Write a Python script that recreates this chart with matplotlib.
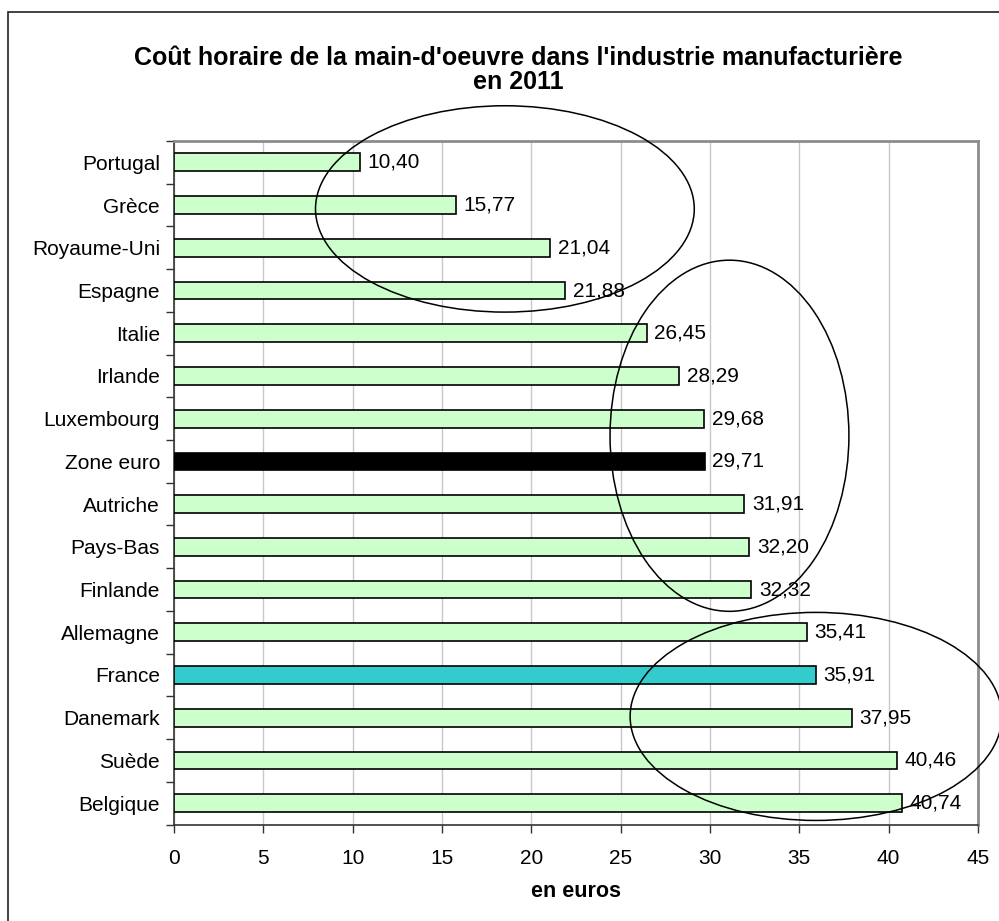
import matplotlib
matplotlib.use("Agg")
import matplotlib.pyplot as plt
from matplotlib.patches import Ellipse, Rectangle
from matplotlib.ticker import MultipleLocator, FixedLocator

plt.rcParams['font.family'] = ['Liberation Sans', 'DejaVu Sans']

countries = ["Portugal", "Grèce", "Royaume-Uni", "Espagne", "Italie", "Irlande",
             "Luxembourg", "Zone euro", "Autriche", "Pays-Bas", "Finlande",
             "Allemagne", "France", "Danemark", "Suède", "Belgique"]
values = [10.40, 15.77, 21.04, 21.88, 26.45, 28.29, 29.68, 29.71, 31.91,
          32.20, 32.32, 35.41, 35.91, 37.95, 40.46, 40.74]
labels = ["10,40", "15,77", "21,04", "21,88", "26,45", "28,29", "29,68", "29,71",
          "31,91", "32,20", "32,32", "35,41", "35,91", "37,95", "40,46", "40,74"]
title = "Coût horaire de la main-d'oeuvre dans l'industrie manufacturière\nen 2011"
xlabel = "en euros"

colors = []
for c in countries:
    if c == "Zone euro":
        colors.append("#000000")
    elif c == "France":
        colors.append("#33CCCC")
    else:
        colors.append("#CCFFCC")

W, H = 999, 921
fig = plt.figure(figsize=(W / 100, H / 100), dpi=100)
fig.patch.set_facecolor("white")

# outer frame
fig.add_artist(Rectangle((8 / W, -0.1), 1.2, 1 - 12 / H + 0.1,
                         transform=fig.transFigure, fill=False,
                         edgecolor="#222222", linewidth=1.2))

left, right, top, bottom = 174, 978, 141, 824.5
ax = fig.add_axes([left / W, 1 - bottom / H, (right - left) / W, (bottom - top) / H])

fs = 15
y = list(range(len(countries)))
ax.barh(y, values, height=0.415, color=colors, edgecolor="black", linewidth=1.2, zorder=3)
for yi, v, lab in zip(y, values, labels):
    ax.annotate(lab, (v, yi), xytext=(5.5, 0), textcoords="offset points",
                va="center", ha="left", fontsize=fs, color="black", zorder=4)

ax.set_xlim(0, 45)
ax.set_ylim(len(countries) - 0.5, -0.5)
ax.xaxis.set_major_locator(MultipleLocator(5))
ax.set_yticks(y)
ax.set_yticklabels(countries, fontsize=fs)
ax.tick_params(axis="y", length=0, pad=10)
ax.yaxis.set_minor_locator(FixedLocator([i - 0.5 for i in range(len(countries) + 1)]))
ax.tick_params(axis="y", which="minor", length=6, width=1, color="#333333", direction="out")
ax.tick_params(axis="x", length=6, width=1, color="#333333", direction="out", labelsize=fs, pad=12)
ax.grid(axis="x", color="#C8C8C8", linewidth=1, zorder=0)
ax.set_axisbelow(True)

for s in ["top", "right"]:
    ax.spines[s].set_color("#8C8C8C")
    ax.spines[s].set_linewidth(2)
for s in ["left", "bottom"]:
    ax.spines[s].set_color("#333333")
    ax.spines[s].set_linewidth(1.2)

ax.set_xlabel(xlabel, fontsize=15.5, fontweight="bold", labelpad=9)

fig.text(518 / W, 1 - 70 / H, title, ha="center", va="center", fontsize=18,
         fontweight="bold", linespacing=1.0)

# annotation ellipses
for cx, cy, w, h in [(18.52, 1.09, 21.2, 4.83), (31.09, 6.40, 13.37, 8.22), (35.93, 12.97, 20.8, 4.87)]:
    ax.add_patch(Ellipse((cx, cy), w, h, fill=False, edgecolor="black",
                         linewidth=1.1, zorder=5, clip_on=False))

fig.savefig("out.png", dpi=100)
